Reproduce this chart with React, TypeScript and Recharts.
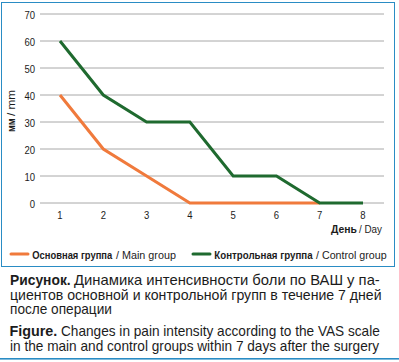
import React, { useLayoutEffect, useRef, useState } from "react";
import { LineChart, Line, XAxis, YAxis, CartesianGrid } from "recharts";

const days = [1, 2, 3, 4, 5, 6, 7, 8];
const mainGroup: (number | null)[] = [40, 20, 10, 0, 0, 0, 0, null];
const controlGroup: (number | null)[] = [60, 40, 30, 30, 10, 10, 0, 0];
const yTicks = [0, 10, 20, 30, 40, 50, 60, 70];

const seriesNames = {
  main: { ru: "Основная группа", en: "/ Main group" },
  control: { ru: "Контрольная группа", en: "/ Control group" },
};

const captionRu = [
  { bold: "Рисунок.", rest: "Динамика интенсивности боли по ВАШ у па-" },
  { bold: "", rest: "циентов основной и контрольной групп в течение 7 дней" },
  { bold: "", rest: "после операции" },
];
const captionEn = [
  { bold: "Figure.", rest: "Changes in pain intensity according to the VAS scale" },
  { bold: "", rest: "in the main and control groups within 7 days after the surgery" },
];

const ORANGE = "#f07a3c";
const GREEN = "#1f6a2f";
const BLUE = "#2a8cc4";
const TEXT = "#1c1c1c";
const SANS = '"Liberation Sans", Arial, Helvetica, sans-serif';

const data = days.map((d, i) => ({ day: d, main: mainGroup[i], control: controlGroup[i] }));

const FitText = ({ x, y, w, bold, size, children }: any) => {
  const ref = useRef<SVGTextElement>(null);
  const [s, setS] = useState(1);
  useLayoutEffect(() => {
    const el = ref.current;
    if (!el) return;
    const n = el.getComputedTextLength();
    if (n > 0) setS(w / n);
  }, [w, children]);
  return (
    <text
      ref={ref}
      transform={`translate(${x},${y}) scale(${s},1)`}
      fontFamily={SANS}
      fontSize={size}
      fontWeight={bold ? "bold" : "normal"}
      fill={TEXT}
    >
      {children}
    </text>
  );
};

const XLabel = () => (
  <g>
    <FitText x={331} y={233} w={26} bold size={11.5}>День</FitText>
    <FitText x={359} y={233} w={23} size={11.5}>/ Day</FitText>
  </g>
);

const YLabel = () => (
  <g transform="translate(14.5,0) rotate(-90)">
    <FitText x={-132} y={0} w={13.7} bold size={11.5}>мм</FitText>
    <FitText x={-116} y={0} w={26} size={11.5}>/ mm</FitText>
  </g>
);

const YTick = (props: any) => {
  const { x, y, payload } = props;
  return (
    <text
      transform={`translate(${x},${y + 1}) scale(0.82,1)`}
      textAnchor="end"
      dy="0.355em"
      fontFamily={SANS}
      fontSize={11.6}
      fill={TEXT}
    >
      {payload.value}
    </text>
  );
};

const XTick = (props: any) => {
  const { x, y, payload } = props;
  return (
    <text transform={`translate(${x},${y}) scale(0.82,1)`} textAnchor="middle" fontFamily={SANS} fontSize={11.6} fill={TEXT}>
      {payload.value}
    </text>
  );
};

type CapLine = { bold: string; rest: string };
const Caption = ({ lines, y0, step, spans }: { lines: CapLine[]; y0: number; step: number; spans: number[][] }) => (
  <>
    {lines.map((l, i) => {
      const s = spans[i];
      return (
        <g key={i}>
          {l.bold ? (
            <FitText x={s[0]} y={y0 + i * step} w={s[1] - s[0]} bold size={14}>
              {l.bold}
            </FitText>
          ) : null}
          <FitText x={l.bold ? s[2] : s[0]} y={y0 + i * step} w={l.bold ? s[3] - s[2] : s[1] - s[0]} size={14}>
            {l.rest}
          </FitText>
        </g>
      );
    })}
  </>
);

export default function App() {
  return (
    <div style={{ position: "absolute", left: 0, top: 0, width: 399, height: 362, background: "#fff", overflow: "hidden" }}>
      <div
        style={{
          position: "absolute",
          left: 1,
          top: 2,
          width: 392,
          height: 263,
          border: `1px solid ${BLUE}`,
        }}
      />
      <div style={{ position: "absolute", left: 0, top: 0 }}>
        <LineChart width={399} height={268} data={data} margin={{ top: 14, right: 15, bottom: 35, left: 10 }}>
          <CartesianGrid horizontal vertical={false} stroke="#a8a8a8" strokeWidth={1} />
          <XAxis
            dataKey="day"
            type="number"
            domain={[1, 8]}
            ticks={days}
            padding={{ left: 20, right: 21 }}
            axisLine={false}
            tickLine={false}
            tickSize={0}
            tickMargin={16}
            height={30}
            interval={0}
            tick={<XTick />}
            label={<XLabel />}
          />
          <YAxis
            type="number"
            domain={[0, 70]}
            ticks={yTicks}
            axisLine={false}
            tickLine={false}
            tickSize={0}
            tickMargin={5}
            width={30}
            interval={0}
            tick={<YTick />}
            label={<YLabel />}
          />
          <Line
            dataKey="main"
            name={seriesNames.main.ru}
            stroke={ORANGE}
            strokeWidth={3}
            dot={false}
            activeDot={false}
            isAnimationActive={false}
            strokeLinejoin="miter"
          />
          <Line
            dataKey="control"
            name={seriesNames.control.ru}
            stroke={GREEN}
            strokeWidth={3}
            dot={false}
            activeDot={false}
            isAnimationActive={false}
            strokeLinejoin="miter"
          />
        </LineChart>
      </div>
      <svg style={{ position: "absolute", left: 0, top: 0 }} width={399} height={362}>
        <line x1={11} y1={254} x2={28} y2={254} stroke={ORANGE} strokeWidth={3} strokeLinecap="round" />
        <FitText x={32.3} y={259} w={80} bold size={10.8}>{seriesNames.main.ru}</FitText>
        <FitText x={116} y={259} w={60} size={10.8}>{seriesNames.main.en}</FitText>
        <line x1={193} y1={254} x2={210} y2={254} stroke={GREEN} strokeWidth={3} strokeLinecap="round" />
        <FitText x={214.3} y={259} w={98.4} bold size={10.8}>{seriesNames.control.ru}</FitText>
        <FitText x={316} y={259} w={70.7} size={10.8}>{seriesNames.control.en}</FitText>
        <Caption
          lines={captionRu}
          y0={285.3}
          step={14.4}
          spans={[
            [10, 70.7, 74, 380],
            [10, 382],
            [10, 112],
          ]}
        />
        <Caption
          lines={captionEn}
          y0={336.3}
          step={14.4}
          spans={[
            [9.5, 57.3, 61, 380],
            [10, 379.5],
          ]}
        />
        <rect x={0} y={358} width={399} height={1.6} fill={BLUE} />
      </svg>
    </div>
  );
}
